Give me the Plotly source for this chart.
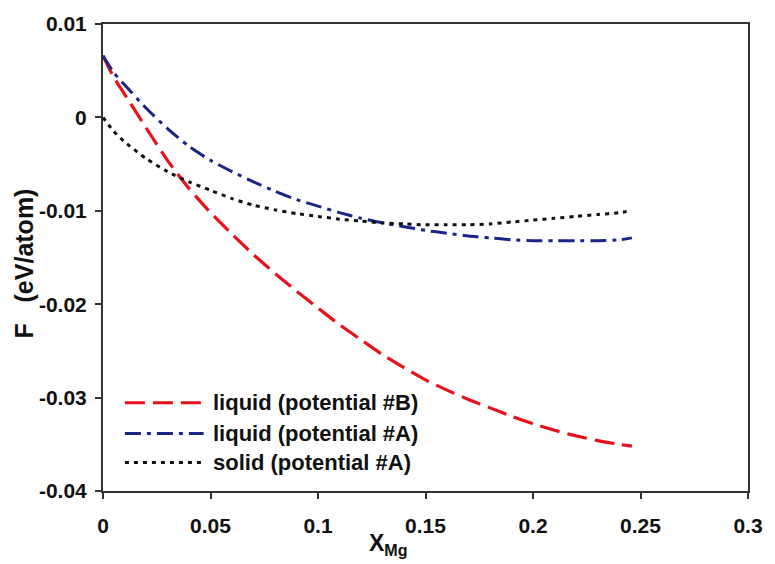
import plotly.graph_objects as go

x_mg = [0, 0.005, 0.01, 0.02, 0.03, 0.04, 0.05, 0.06, 0.07, 0.08, 0.09, 0.10, 0.11, 0.12,
        0.13, 0.14, 0.15, 0.16, 0.17, 0.18, 0.19, 0.20, 0.21, 0.22, 0.23, 0.24, 0.246]

liquid_B = [0.0066, 0.0043, 0.0025, -0.0011, -0.0046, -0.0076, -0.0102, -0.0125, -0.0147,
            -0.0167, -0.0186, -0.0204, -0.0222, -0.0238, -0.0254, -0.0268, -0.0281, -0.0292,
            -0.0302, -0.0311, -0.0320, -0.0328, -0.0335, -0.0341, -0.0346, -0.0350, -0.0352]

liquid_A = [0.0066, 0.0048, 0.0035, 0.0010, -0.0012, -0.0031, -0.0046, -0.0058, -0.0069,
            -0.0079, -0.0088, -0.0095, -0.0102, -0.0108, -0.0113, -0.0117, -0.0121, -0.0124,
            -0.0127, -0.0129, -0.0131, -0.0132, -0.0132, -0.0132, -0.0132, -0.0131, -0.0129]

solid_A = [0.0, -0.0015, -0.0026, -0.0044, -0.0058, -0.0069, -0.0078, -0.0087, -0.0094,
           -0.0099, -0.0103, -0.0106, -0.0109, -0.0111, -0.0113, -0.0114, -0.0115, -0.0115,
           -0.0115, -0.0114, -0.0112, -0.0110, -0.0108, -0.0106, -0.0104, -0.0102, -0.0100]

series_names = ["liquid (potential #B)", "liquid (potential #A)", "solid (potential #A)"]
series_vals = [liquid_B, liquid_A, solid_A]
colors = ["#e8101a", "#1b2585", "#111111"]
dashes = ["20px,8px", "16px,6px,4px,6px", "4px,5px"]
widths = [3.2, 3.0, 3.0]

x_ticks = [0, 0.05, 0.1, 0.15, 0.2, 0.25, 0.3]
x_ticktext = ["0", "0.05", "0.1", "0.15", "0.2", "0.25", "0.3"]
y_ticks = [0.01, 0, -0.01, -0.02, -0.03, -0.04]
y_ticktext = ["0.01", "0", "-0.01", "-0.02", "-0.03", "-0.04"]

FONT = "Liberation Sans, Arial, sans-serif"

fig = go.Figure()
for name, vals, c, d, w in zip(series_names, series_vals, colors, dashes, widths):
    fig.add_trace(go.Scatter(x=x_mg, y=vals, mode="lines", name=name, showlegend=False,
                             line=dict(color=c, dash=d, width=w, shape="spline", smoothing=0.6)))

# manual legend (paper coordinates)
leg_y = [0.189, 0.123, 0.061]
for name, c, d, w, ly in zip(series_names, colors, dashes, widths, leg_y):
    fig.add_shape(type="line", xref="paper", yref="paper", x0=0.034, x1=0.156, y0=ly, y1=ly,
                  line=dict(color=c, dash=d, width=w))
    fig.add_annotation(xref="paper", yref="paper", x=0.168, y=ly, text="<b>%s</b>" % name,
                       showarrow=False, xanchor="left", yanchor="middle",
                       font=dict(family=FONT, size=22, color="#111"))

fig.update_xaxes(range=[0, 0.3], tickvals=x_ticks, ticktext=x_ticktext,
                 showgrid=False, zeroline=False, showline=True, linecolor="#333", linewidth=2,
                 mirror=True, ticks="outside", ticklen=6, tickcolor="#333", tickwidth=1.5,
                 ticklabelstandoff=9,
                 tickfont=dict(family=FONT, size=21, color="#111", weight="bold"))
fig.update_yaxes(range=[-0.04, 0.01], tickvals=y_ticks, ticktext=y_ticktext,
                 showgrid=False, zeroline=False, showline=True, linecolor="#333", linewidth=2,
                 mirror=True, ticks="outside", ticklen=6, tickcolor="#333", tickwidth=1.5,
                 ticklabelstandoff=4,
                 tickfont=dict(family=FONT, size=21, color="#111", weight="bold"))

# axis titles
fig.add_annotation(xref="paper", yref="paper", x=(23 - 103) / 654, y=(491 - 262) / 470,
                   text="<b>F   (eV/atom)</b>", textangle=-90, showarrow=False,
                   xanchor="center", yanchor="middle",
                   font=dict(family=FONT, size=25, color="#111"))
fig.add_annotation(xref="paper", yref="paper", x=(371 - 103) / 654, y=(491 - 545) / 470,
                   text="<b>X<sub>Mg</sub></b>", showarrow=False,
                   xanchor="left", yanchor="middle",
                   font=dict(family=FONT, size=23, color="#111"))

fig.update_layout(width=775, height=564, margin=dict(l=103, r=18, t=21, b=73),
                  plot_bgcolor="white", paper_bgcolor="white")

fig.write_html("out.html")
